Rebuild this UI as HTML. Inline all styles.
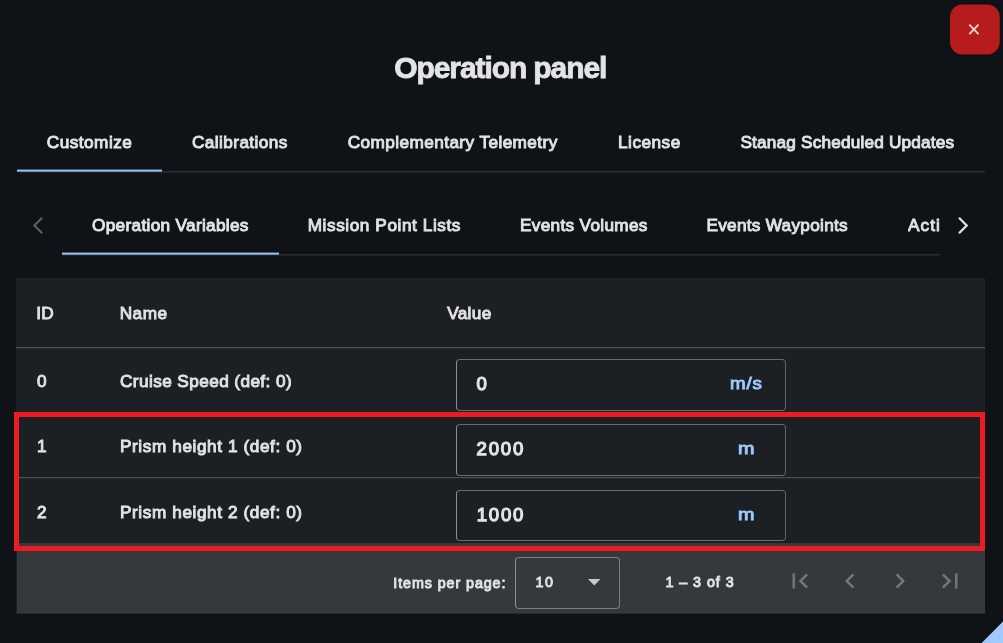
<!DOCTYPE html>
<html><head><meta charset="utf-8"><title>Operation panel</title>
<style>
html,body{margin:0;padding:0}
body{width:1003px;height:643px;overflow:hidden;background:#0f1216;position:relative;font-family:"Liberation Sans",sans-serif}
.a{position:absolute}
.t{position:absolute;white-space:pre;display:block}
.box{position:absolute;box-sizing:border-box;border:1px solid #686b70;border-left-color:#8b8e93;border-right-color:#606368;border-radius:4px}
svg{position:absolute;overflow:visible}
</style></head><body>
<!-- close button -->
<svg style="left:940px;top:0" width="63" height="64" viewBox="940 0 63 64"><rect x="950" y="5.6" width="49.7" height="50" rx="12.5" fill="#07090c" opacity=".55"/><rect x="950" y="4.4" width="49.7" height="50.2" rx="12.5" fill="#b71c1c"/></svg>
<svg style="left:964px;top:19px" width="20" height="20" viewBox="0 0 20 20"><path d="M5.3 5.6L14.5 15.2M14.5 5.6L5.3 15.2" stroke="#f8d3d3" stroke-width="1.85" fill="none"/></svg>

<!-- tab row 1 lines -->
<div class="a" style="left:17px;top:171px;width:968px;height:1px;background:#282b30"></div>
<div class="a" style="left:17px;top:172px;width:968px;height:1px;background:#1f2227"></div>
<div class="a" style="left:17px;top:169px;width:145px;height:1px;background:#45586f"></div>
<div class="a" style="left:17px;top:170px;width:145px;height:1px;background:#9ccafc"></div>
<div class="a" style="left:17px;top:171px;width:145px;height:1px;background:#6a86a5"></div>
<!-- tab row 2 lines -->
<div class="a" style="left:62px;top:254px;width:878px;height:1px;background:#282b30"></div>
<div class="a" style="left:62px;top:255px;width:878px;height:1px;background:#1f2227"></div>
<div class="a" style="left:62px;top:252px;width:217px;height:1px;background:#45586f"></div>
<div class="a" style="left:62px;top:253px;width:217px;height:1px;background:#9ccafc"></div>
<div class="a" style="left:62px;top:254px;width:217px;height:1px;background:#6a86a5"></div>
<!-- chevrons -->
<svg style="left:18px;top:206px" width="40" height="40" viewBox="18 206 40 40"><polyline points="42.1,217.8 34.4,225.5 42.1,233.2" fill="none" stroke="#5a5d63" stroke-width="2.2"/></svg>
<svg style="left:943px;top:206px" width="40" height="40" viewBox="943 206 40 40"><polyline points="959.0,217.8 966.7,225.5 959.0,233.2" fill="none" stroke="#dfe2e7" stroke-width="2.3"/></svg>

<!-- table -->
<div class="a" style="left:16px;top:278px;width:969px;height:265px;background:#1c1f24"></div>
<div class="a" style="left:16px;top:347px;width:969px;height:1px;background:#505359"></div>
<div class="a" style="left:16px;top:348px;width:969px;height:1px;background:#25282d"></div>
<div class="a" style="left:16px;top:412px;width:969px;height:1px;background:#505359"></div>
<div class="a" style="left:16px;top:477px;width:969px;height:1px;background:#4b4e54"></div>
<div class="a" style="left:16px;top:478px;width:969px;height:1px;background:#25282d"></div>
<!-- input boxes -->
<div class="box" style="left:456px;top:359px;width:330px;height:52px"></div>
<div class="box" style="left:456px;top:424px;width:330px;height:52px"></div>
<div class="box" style="left:456px;top:490px;width:330px;height:51px"></div>
<!-- paginator -->
<div class="a" style="left:16px;top:543px;width:1px;height:71px;background:#1c1f24"></div>
<div class="a" style="left:17px;top:543px;width:968px;height:70px;background:#35383d"></div>
<div class="a" style="left:17px;top:613px;width:968px;height:1px;background:#272a2f"></div>
<div class="box" style="left:515px;top:557px;width:105px;height:52px;border-color:#7b7e83;border-left-color:#8d9095"></div>
<svg style="left:587.6px;top:578.8px" width="12.5" height="6.6" viewBox="0 0 12.5 6.6"><path d="M0 0H12.5L6.25 6.6z" fill="#c6c8cc"/></svg>
<!-- nav icons -->
<svg style="left:784.8px;top:565.5px" width="30" height="30" viewBox="0 0 24 24"><path fill="#72757a" d="M18.41 16.59L13.82 12l4.59-4.59L17 6l-6 6 6 6zM6 6h2v12H6z"/></svg>
<svg style="left:834.6px;top:565.5px" width="30" height="30" viewBox="0 0 24 24"><path fill="#72757a" d="M15.41 7.41L14 6l-6 6 6 6 1.41-1.41L10.83 12z"/></svg>
<svg style="left:884.8px;top:565.5px" width="30" height="30" viewBox="0 0 24 24"><path fill="#72757a" d="M10 6L8.59 7.41 13.17 12l-4.58 4.59L10 18l6-6z"/></svg>
<svg style="left:934.7px;top:565.5px" width="30" height="30" viewBox="0 0 24 24"><path fill="#72757a" d="M5.59 7.41L10.18 12l-4.59 4.59L7 18l6-6-6-6zM16 6h2v12h-2z"/></svg>
<!-- red highlight -->
<div class="a" style="left:14px;top:412px;width:971px;height:139px;box-sizing:border-box;border:5px solid #ed1c24"></div>
<!-- corner triangle -->
<svg style="left:973px;top:613px" width="30" height="30" viewBox="973 613 30 30"><path d="M1003 621.6V643H981.6z" fill="#9ecbfb"/></svg>
<!-- texts -->
<div class="a" style="left:0;top:0;width:1003px;height:643px;will-change:transform;opacity:.999">
<span class="t" style="left:394.25px;top:53.01px;font-size:30px;line-height:30px;letter-spacing:-1.09px;color:#e3e5ea;font-weight:700;-webkit-text-stroke:0.8px #e3e5ea">Operation panel</span>
<span class="t" style="left:46.75px;top:134.37px;font-size:17.2px;line-height:17.2px;letter-spacing:0.49px;color:#e3e5ea;font-weight:400;-webkit-text-stroke:0.95px #e3e5ea">Customize</span>
<span class="t" style="left:192.05px;top:134.37px;font-size:17.2px;line-height:17.2px;letter-spacing:0.41px;color:#e1e3e8;font-weight:400;-webkit-text-stroke:0.95px #e1e3e8">Calibrations</span>
<span class="t" style="left:347.75px;top:134.37px;font-size:17.2px;line-height:17.2px;letter-spacing:0.42px;color:#e1e3e8;font-weight:400;-webkit-text-stroke:0.95px #e1e3e8">Complementary Telemetry</span>
<span class="t" style="left:618.0px;top:134.37px;font-size:17.2px;line-height:17.2px;letter-spacing:0.5px;color:#e1e3e8;font-weight:400;-webkit-text-stroke:0.95px #e1e3e8">License</span>
<span class="t" style="left:740.45px;top:134.37px;font-size:17.2px;line-height:17.2px;letter-spacing:0.19px;color:#e1e3e8;font-weight:400;-webkit-text-stroke:0.95px #e1e3e8">Stanag Scheduled Updates</span>
<span class="t" style="left:92.05px;top:217.37px;font-size:17.2px;line-height:17.2px;letter-spacing:0.32px;color:#e3e5ea;font-weight:400;-webkit-text-stroke:0.95px #e3e5ea">Operation Variables</span>
<span class="t" style="left:307.7px;top:217.37px;font-size:17.2px;line-height:17.2px;letter-spacing:0.58px;color:#e1e3e8;font-weight:400;-webkit-text-stroke:0.95px #e1e3e8">Mission Point Lists</span>
<span class="t" style="left:520.0px;top:217.37px;font-size:17.2px;line-height:17.2px;letter-spacing:0.32px;color:#e1e3e8;font-weight:400;-webkit-text-stroke:0.95px #e1e3e8">Events Volumes</span>
<span class="t" style="left:706.4px;top:217.37px;font-size:17.2px;line-height:17.2px;letter-spacing:0.29px;color:#e1e3e8;font-weight:400;-webkit-text-stroke:0.95px #e1e3e8">Events Waypoints</span>
<span class="t" style="left:908.05px;top:217.37px;font-size:17.2px;line-height:17.2px;letter-spacing:1.05px;color:#e1e3e8;font-weight:400;-webkit-text-stroke:0.95px #e1e3e8;width:31.95px;overflow:hidden">Actions</span>
<span class="t" style="left:36.3px;top:305.37px;font-size:17.2px;line-height:17.2px;letter-spacing:0.25px;color:#e1e3e8;font-weight:400;-webkit-text-stroke:0.95px #e1e3e8">ID</span>
<span class="t" style="left:119.7px;top:305.37px;font-size:17.2px;line-height:17.2px;letter-spacing:0.5px;color:#e1e3e8;font-weight:400;-webkit-text-stroke:0.95px #e1e3e8">Name</span>
<span class="t" style="left:447.2px;top:305.37px;font-size:17.2px;line-height:17.2px;letter-spacing:0.33px;color:#e1e3e8;font-weight:400;-webkit-text-stroke:0.95px #e1e3e8">Value</span>
<span class="t" style="left:37.05px;top:373.37px;font-size:17.2px;line-height:17.2px;letter-spacing:0px;color:#e1e3e8;font-weight:400;-webkit-text-stroke:0.95px #e1e3e8">0</span>
<span class="t" style="left:120.05px;top:373.37px;font-size:17.2px;line-height:17.2px;letter-spacing:0.41px;color:#e1e3e8;font-weight:400;-webkit-text-stroke:0.95px #e1e3e8">Cruise Speed (def: 0)</span>
<span class="t" style="left:36.95px;top:437.77px;font-size:17.2px;line-height:17.2px;letter-spacing:0px;color:#e1e3e8;font-weight:400;-webkit-text-stroke:0.95px #e1e3e8">1</span>
<span class="t" style="left:120.0px;top:437.77px;font-size:17.2px;line-height:17.2px;letter-spacing:0.59px;color:#e1e3e8;font-weight:400;-webkit-text-stroke:0.95px #e1e3e8">Prism height 1 (def: 0)</span>
<span class="t" style="left:37.05px;top:503.77px;font-size:17.2px;line-height:17.2px;letter-spacing:0px;color:#e1e3e8;font-weight:400;-webkit-text-stroke:0.95px #e1e3e8">2</span>
<span class="t" style="left:120.0px;top:503.77px;font-size:17.2px;line-height:17.2px;letter-spacing:0.59px;color:#e1e3e8;font-weight:400;-webkit-text-stroke:0.95px #e1e3e8">Prism height 2 (def: 0)</span>
<span class="t" style="left:476.6px;top:375.0px;font-size:18.6px;line-height:18.6px;letter-spacing:0px;color:#e1e3e8;font-weight:400;-webkit-text-stroke:1.25px #e1e3e8">0</span>
<span class="t" style="left:476.45px;top:440.0px;font-size:18.6px;line-height:18.6px;letter-spacing:1.87px;color:#e1e3e8;font-weight:400;-webkit-text-stroke:1.25px #e1e3e8">2000</span>
<span class="t" style="left:476.75px;top:506.0px;font-size:18.6px;line-height:18.6px;letter-spacing:1.77px;color:#e1e3e8;font-weight:400;-webkit-text-stroke:1.25px #e1e3e8">1000</span>
<span class="t" style="left:730.23px;top:375.87px;font-size:16.6px;line-height:16.6px;letter-spacing:0.77px;color:#9ccafc;font-weight:400;-webkit-text-stroke:0.95px #9ccafc;transform:scaleX(1.13);transform-origin:0 0">m/s</span>
<span class="t" style="left:738.3px;top:440.77px;font-size:16.6px;line-height:16.6px;letter-spacing:0px;color:#9ccafc;font-weight:400;-webkit-text-stroke:0.95px #9ccafc;transform:scaleX(1.19);transform-origin:0 0">m</span>
<span class="t" style="left:738.3px;top:506.57px;font-size:16.6px;line-height:16.6px;letter-spacing:0px;color:#9ccafc;font-weight:400;-webkit-text-stroke:0.95px #9ccafc;transform:scaleX(1.19);transform-origin:0 0">m</span>
<span class="t" style="left:393.25px;top:575.62px;font-size:14.3px;line-height:14.3px;letter-spacing:0.92px;color:#e1e3e8;font-weight:400;-webkit-text-stroke:0.95px #e1e3e8">Items per page:</span>
<span class="t" style="left:535.5px;top:575.22px;font-size:14.3px;line-height:14.3px;letter-spacing:1.45px;color:#e1e3e8;font-weight:400;-webkit-text-stroke:0.95px #e1e3e8">10</span>
<span class="t" style="left:665.5px;top:575.22px;font-size:14.3px;line-height:14.3px;letter-spacing:0.94px;color:#e1e3e8;font-weight:400;-webkit-text-stroke:0.95px #e1e3e8">1 – 3 of 3</span>
</div>
</body></html>
